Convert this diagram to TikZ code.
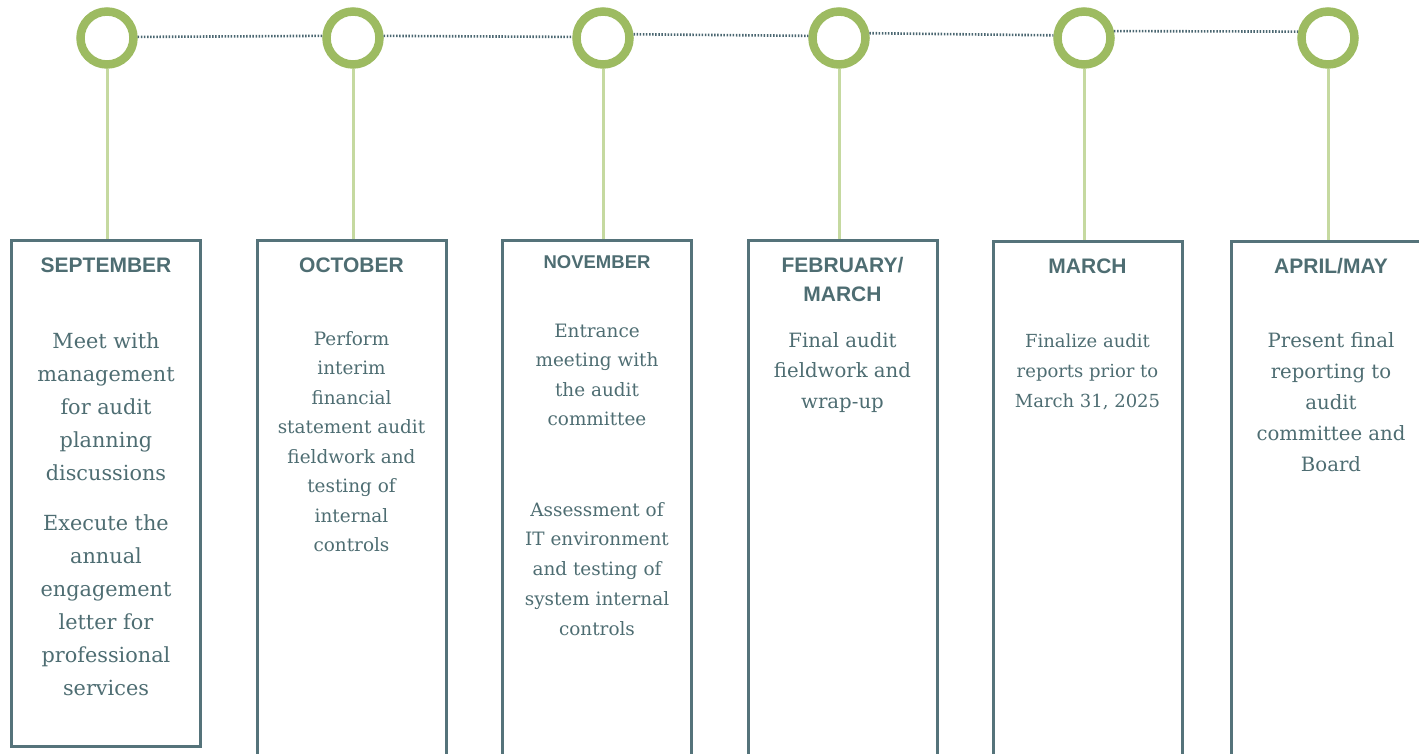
\documentclass[tikz,border=0pt]{standalone}
\usepackage{fontspec}
\setmainfont{DejaVu Serif}
\newfontfamily\headfont{Liberation Sans}
\definecolor{slate}{HTML}{4E6D72}
\definecolor{frame}{HTML}{55737A}
\definecolor{ring}{HTML}{9DBB61}
\definecolor{stem}{HTML}{C5D9A0}
\definecolor{dots}{HTML}{4A6670}
% multi-line nodes are placed by the baseline of their last line
\tikzset{
  x=1pt, y=-1pt,
  milestone/.style={circle, draw=ring, line width=8.5pt, minimum size=53pt, inner sep=0pt},
  monthbox/.style={rectangle, draw=frame, line width=3pt, minimum width=189pt, inner sep=0pt, anchor=north},
  stemline/.style={draw=stem, line width=3pt},
  dotline/.style={draw=dots, line width=2.6pt, dash pattern=on 1.5pt off 1.6pt},
  head/.style={text=slate, font=\headfont\bfseries\fontsize{21}{29}\selectfont, anchor=base, align=center, inner sep=0pt},
  body/.style={text=slate, anchor=base, align=center, inner sep=0pt},
}
\begin{document}
\begin{tikzpicture}
\path[use as bounding box] (0,0) rectangle (1419,753);
\clip (0,0) rectangle (1419,753);

% milestone rings
\node[milestone] (c1) at (107,38) {};
\node[milestone] (c2) at (353,38) {};
\node[milestone] (c3) at (603,38) {};
\node[milestone] (c4) at (839,38) {};
\node[milestone] (c5) at (1084,38) {};
\node[milestone] (c6) at (1328,38) {};

% dotted timeline between rings
\draw[dotline] (c1.2) -- (c2.176);
\draw[dotline] (c2.4) -- (c3.178);
\draw[dotline] (c3.7) -- (c4.176);
\draw[dotline] (c4.9) -- (c5.175);
\draw[dotline] (c5.13) -- (c6.168);

% month boxes
\node[monthbox, minimum height=506pt] (b1) at (106,239) {};
\node[monthbox, minimum height=540pt] (b2) at (351.5,239) {};
\node[monthbox, minimum height=540pt] (b3) at (596.5,239) {};
\node[monthbox, minimum height=540pt] (b4) at (842.5,239) {};
\node[monthbox, minimum height=540pt] (b5) at (1087.5,240) {};
\node[monthbox, minimum height=540pt] (b6) at (1325.5,240) {};

% stems from rings to boxes
\draw[stemline] (c1.south) -- (c1.south |- b1.north);
\draw[stemline] (c2.south) -- (c2.south |- b2.north);
\draw[stemline] (c3.south) -- (c3.south |- b3.north);
\draw[stemline] (c4.south) -- (c4.south |- b4.north);
\draw[stemline] (c5.south) -- (c5.south |- b5.north);
\draw[stemline] (c6.south) -- (c6.south |- b6.north);

% headings
\node[head] (h1) at (106,272) {SEPTEMBER};
\node[head] (h2) at (351.5,272) {OCTOBER};
\node[head, font=\headfont\bfseries\fontsize{18.5}{25}\selectfont] (h3) at (597,268.5) {NOVEMBER};
\node[head] (h4) at (842.5,301) {FEBRUARY/\\MARCH};
\node[head] (h5) at (1087.5,273) {MARCH};
\node[head] (h6) at (1331,273) {APRIL/MAY};

% descriptions
\node[body, font=\fontsize{20.8}{33}\selectfont] (t1a) at (106,480)
  {Meet with\\management\\for audit\\planning\\discussions};
\node[body, font=\fontsize{20.8}{33}\selectfont] (t1b) at (106,695)
  {Execute the\\annual\\engagement\\letter for\\professional\\services};
\node[body, font=\fontsize{18.4}{29.5}\selectfont] (t2) at (351.5,551.5)
  {Perform\\interim\\financial\\statement audit\\fieldwork and\\testing of\\internal\\controls};
\node[body, font=\fontsize{18.4}{29.5}\selectfont] (t3a) at (597,425.5)
  {Entrance\\meeting with\\the audit\\committee};
\node[body, font=\fontsize{18.4}{29.7}\selectfont] (t3b) at (597,635)
  {Assessment of\\IT environment\\and testing of\\system internal\\controls};
\node[body, font=\fontsize{19.7}{30.5}\selectfont] (t4) at (842.5,408)
  {Final audit\\fieldwork and\\wrap-up};
\node[body, font=\fontsize{18}{30}\selectfont] (t5) at (1087.5,407)
  {Finalize audit\\reports prior to\\March 31, 2025};
\node[body, font=\fontsize{19.7}{31}\selectfont] (t6) at (1331,471)
  {Present final\\reporting to\\audit\\committee and\\Board};
\end{tikzpicture}
\end{document}
